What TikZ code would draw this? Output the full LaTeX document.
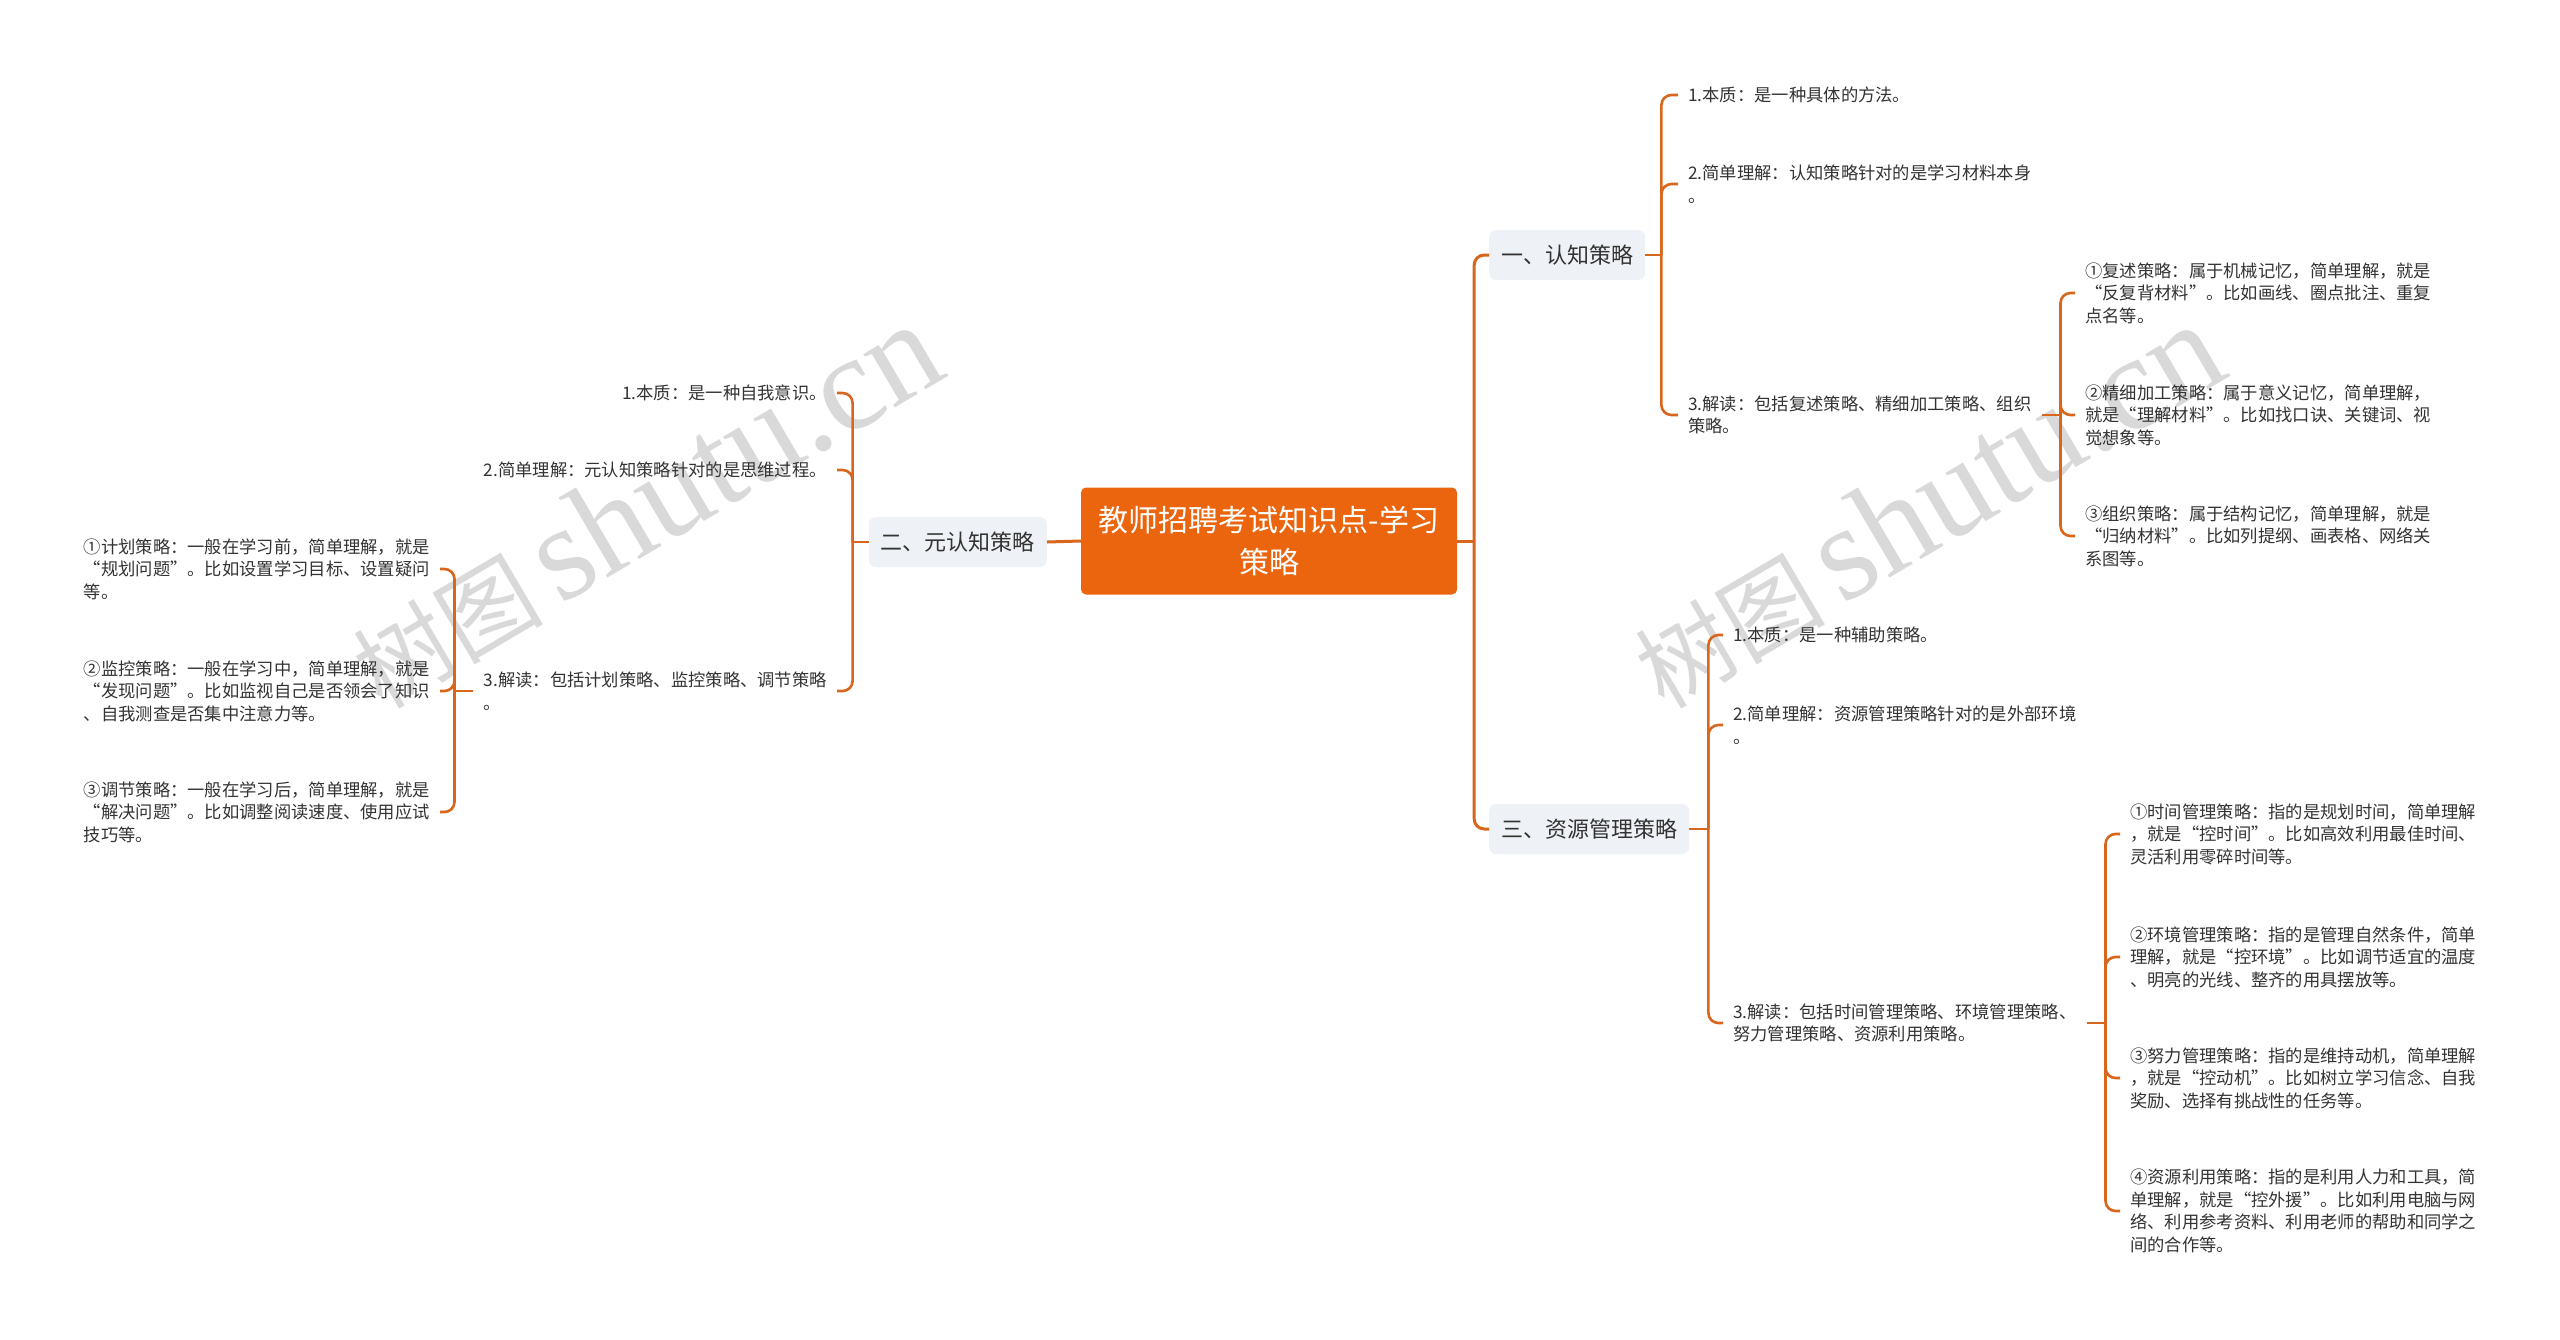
\documentclass[tikz,border=0pt]{standalone}
\usepackage{fontspec}
\setmainfont{Noto Sans CJK SC}
\newfontfamily\wmlatin{Liberation Serif}
\definecolor{lnc}{HTML}{D8661C}
\definecolor{rootc}{HTML}{EA650D}
\definecolor{subc}{HTML}{EEF1F5}
\definecolor{txtc}{HTML}{333333}
\definecolor{wmc}{HTML}{D9D9D9}
\begin{document}
\begin{tikzpicture}[x=1pt,y=-1pt,
  rootbox/.style={fill=rootc, rounded corners=5pt, text=white, minimum width=376pt, minimum height=107pt, align=center, inner sep=0pt, font=\fontsize{30}{42}\selectfont},
  mainbox/.style={fill=subc, rounded corners=7pt, text=txtc, minimum height=50pt, inner xsep=12pt, inner ysep=0pt, font=\fontsize{22}{28}\selectfont},
  leaf/.style={text=txtc, align=left, inner xsep=10pt, inner ysep=0pt, font=\fontsize{17.3}{22.5}\selectfont},
  conn/.style={draw=lnc, line width=3pt, rounded corners=10pt},
  sconn/.style={draw=lnc, line width=2.6pt, rounded corners=10pt},
  wmtext/.style={text=wmc, rotate=30.5, inner sep=0pt}
]
\useasboundingbox (0,0) rectangle (2560,1339);
\fill[white] (0,0) rectangle (2560,1339);

% watermarks
\node[wmtext] (wm1) at (645,506) {\fontsize{95}{95}\selectfont 树图\,{\wmlatin\fontsize{135}{135}\selectfont shutu.cn}};
\node[wmtext] (wm2) at (1927,506) {\fontsize{95}{95}\selectfont 树图\,{\wmlatin\fontsize{135}{135}\selectfont shutu.cn}};

% root and main branches
\node[rootbox] (root) at (1269,541) {教师招聘考试知识点-学习\\策略};
\node[mainbox, anchor=west] (n1) at (1489,255) {一、认知策略};
\node[mainbox, anchor=west] (n3) at (1489,829) {三、资源管理策略};
\node[mainbox, anchor=east] (n2) at (1047,542) {二、元认知策略};

% branch 1 leaves
\node[leaf, anchor=west] (a1) at (1678,95) {1.本质：是一种具体的方法。};
\node[leaf, anchor=west] (a2) at (1678,184) {2.简单理解：认知策略针对的是学习材料本身\\。};
\node[leaf, anchor=west] (a3) at (1678,415) {3.解读：包括复述策略、精细加工策略、组织\\策略。};
\node[leaf, anchor=west] (b1) at (2075,293) {①复述策略：属于机械记忆，简单理解，就是\\“反复背材料”。比如画线、圈点批注、重复\\点名等。};
\node[leaf, anchor=west] (b2) at (2075,415) {②精细加工策略：属于意义记忆，简单理解，\\就是“理解材料”。比如找口诀、关键词、视\\觉想象等。};
\node[leaf, anchor=west] (b3) at (2075,536) {③组织策略：属于结构记忆，简单理解，就是\\“归纳材料”。比如列提纲、画表格、网络关\\系图等。};

% branch 3 leaves
\node[leaf, anchor=west] (c1) at (1723,635) {1.本质：是一种辅助策略。};
\node[leaf, anchor=west] (c2) at (1723,725) {2.简单理解：资源管理策略针对的是外部环境\\。};
\node[leaf, anchor=west] (c3) at (1723,1023) {3.解读：包括时间管理策略、环境管理策略、\\努力管理策略、资源利用策略。};
\node[leaf, anchor=west] (d1) at (2120,834) {①时间管理策略：指的是规划时间，简单理解\\，就是“控时间”。比如高效利用最佳时间、\\灵活利用零碎时间等。};
\node[leaf, anchor=west] (d2) at (2120,957) {②环境管理策略：指的是管理自然条件，简单\\理解，就是“控环境”。比如调节适宜的温度\\、明亮的光线、整齐的用具摆放等。};
\node[leaf, anchor=west] (d3) at (2120,1078) {③努力管理策略：指的是维持动机，简单理解\\，就是“控动机”。比如树立学习信念、自我\\奖励、选择有挑战性的任务等。};
\node[leaf, anchor=west] (d4) at (2120,1211) {④资源利用策略：指的是利用人力和工具，简\\单理解，就是“控外援”。比如利用电脑与网\\络、利用参考资料、利用老师的帮助和同学之\\间的合作等。};

% branch 2 leaves
\node[leaf, anchor=east] (e1) at (837,393) {1.本质：是一种自我意识。};
\node[leaf, anchor=east] (e2) at (837,470) {2.简单理解：元认知策略针对的是思维过程。};
\node[leaf, anchor=east] (e3) at (837,691) {3.解读：包括计划策略、监控策略、调节策略\\。};
\node[leaf, anchor=east] (f1) at (440,569) {①计划策略：一般在学习前，简单理解，就是\\“规划问题”。比如设置学习目标、设置疑问\\等。};
\node[leaf, anchor=east] (f2) at (440,691) {②监控策略：一般在学习中，简单理解，就是\\“发现问题”。比如监视自己是否领会了知识\\、自我测查是否集中注意力等。};
\node[leaf, anchor=east] (f3) at (440,812) {③调节策略：一般在学习后，简单理解，就是\\“解决问题”。比如调整阅读速度、使用应试\\技巧等。};

% connectors: root
\draw[conn] (root.east) -- ++(17,0) coordinate (jr);
\draw[conn] (jr) |- (n1.west);
\draw[conn] (jr) |- (n3.west);
\draw[conn] (root.west) -- (n2.east);

% branch 1
\draw[sconn] (n1.east) -- ++(16,0) coordinate (j1);
\foreach \c in {a1,a2,a3} \draw[sconn] (j1) |- (\c.west);
\draw[sconn] (a3.east) -- ++(19,0) coordinate (j1b);
\foreach \c in {b1,b2,b3} \draw[sconn] (j1b) |- (\c.west);

% branch 3
\draw[sconn] (n3.east) -- ++(19,0) coordinate (j3);
\foreach \c in {c1,c2,c3} \draw[sconn] (j3) |- (\c.west);
\draw[sconn] (c3.east) -- ++(19,0) coordinate (j3b);
\foreach \c in {d1,d2,d3,d4} \draw[sconn] (j3b) |- (\c.west);

% branch 2
\draw[sconn] (n2.west) -- ++(-16,0) coordinate (j2);
\foreach \c in {e1,e2,e3} \draw[sconn] (j2) |- (\c.east);
\draw[sconn] (e3.west) -- ++(-19,0) coordinate (j2b);
\foreach \c in {f1,f2,f3} \draw[sconn] (j2b) |- (\c.east);
\end{tikzpicture}
\end{document}
